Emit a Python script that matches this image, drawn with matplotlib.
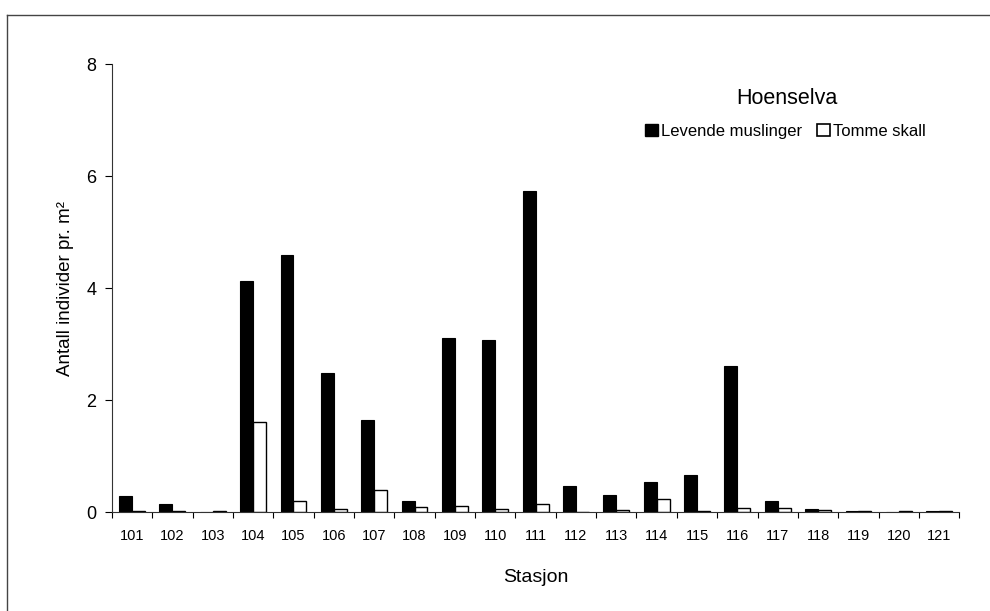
import numpy as np
import matplotlib.pyplot as plt
from matplotlib.lines import Line2D
from matplotlib.patches import Patch

plt.rcParams['font.family'] = ['Liberation Sans', 'DejaVu Sans']

# data
stasjoner = ['101', '102', '103', '104', '105', '106', '107', '108', '109', '110', '111',
             '112', '113', '114', '115', '116', '117', '118', '119', '120', '121']
levende = [0.29, 0.14, 0.0, 4.13, 4.59, 2.49, 1.65, 0.20, 3.10, 3.07, 5.74,
           0.47, 0.31, 0.54, 0.67, 2.60, 0.20, 0.06, 0.01, 0.0, 0.01]
tomme = [0.01, 0.02, 0.01, 1.60, 0.19, 0.06, 0.39, 0.09, 0.10, 0.05, 0.14,
         0.0, 0.04, 0.23, 0.02, 0.08, 0.08, 0.03, 0.01, 0.01, 0.01]

fig = plt.figure(figsize=(9.9, 6.11), dpi=100, facecolor='white')
ax = fig.add_axes([0.113, 0.162, 0.856, 0.733])

x = np.arange(len(stasjoner))
w = 0.32
ax.bar(x - w / 2, levende, width=w, color='black', edgecolor='black', lw=0.8)
ax.bar(x + w / 2, tomme, width=w, color='white', edgecolor='black', lw=1.0)

ax.set_xlim(-0.5, len(stasjoner) - 0.5)
ax.set_ylim(0, 8)
ax.set_yticks([0, 2, 4, 6, 8])
ax.set_xticks(x)
ax.set_xticklabels(stasjoner, fontsize=10.5)
ax.set_xticks(np.arange(-0.5, len(stasjoner)), minor=True)
ax.tick_params(axis='x', which='major', length=0, pad=12)
ax.tick_params(axis='x', which='minor', length=4, width=0.8, direction='out')
ax.tick_params(axis='y', labelsize=13, length=5, width=0.8, pad=6)

for s in ['top', 'right']:
    ax.spines[s].set_visible(False)
for s in ['left', 'bottom']:
    ax.spines[s].set_linewidth(0.8)
    ax.spines[s].set_color('#333333')

ax.set_xlabel('Stasjon', fontsize=14, labelpad=19)
ax.set_ylabel('Antall individer pr. m²', fontsize=13.5, labelpad=9)

ax.text(0.797, 0.924, 'Hoenselva', transform=ax.transAxes,
        ha='center', va='center', fontsize=15.5)
handles = [Patch(facecolor='black', edgecolor='black'),
           Patch(facecolor='white', edgecolor='black', lw=1.2)]
leg = ax.legend(handles, ['Levende muslinger', 'Tomme skall'], ncol=2,
                fontsize=12, frameon=False, handlelength=0.75, handleheight=0.75,
                handletextpad=0.2, columnspacing=0.9,
                loc='center', bbox_to_anchor=(0.795, 0.850))

# scanned page border (top and left)
fig.add_artist(Line2D([0.007, 1.0], [0.975, 0.975], color='#444444', lw=1.0))
fig.add_artist(Line2D([0.007, 0.007], [0.0, 0.975], color='#444444', lw=1.0))

fig.savefig('out.png', dpi=100, facecolor='white')
